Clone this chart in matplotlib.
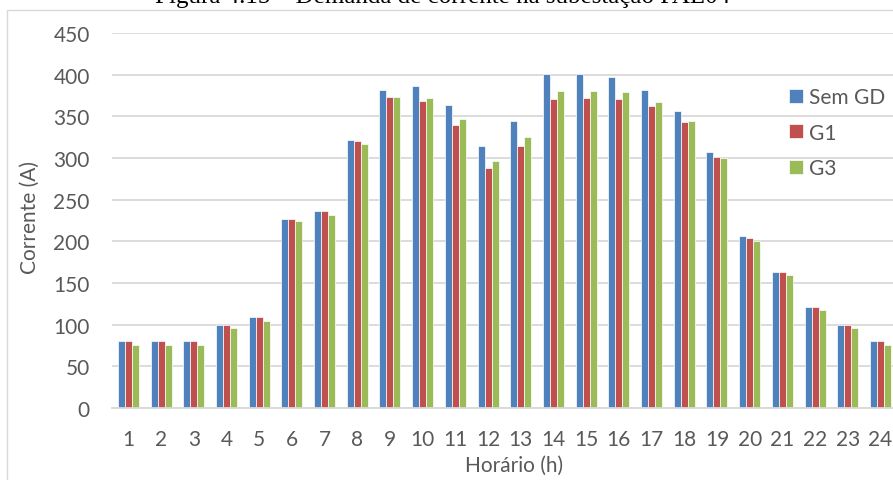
import numpy as np
import matplotlib.pyplot as plt
from matplotlib.patches import Rectangle

# corrente por hora na subestação (A)
horas = list(range(1, 25))
sem_gd = [80, 80, 80, 100, 109, 227, 236, 322, 382, 386, 364, 315,
          345, 401, 401, 397, 382, 356, 307, 206, 163, 121, 100, 80]
g1 = [80, 80, 80, 100, 109, 227, 236, 320, 373, 368, 340, 288,
      315, 371, 372, 371, 362, 343, 301, 204, 163, 121, 100, 80]
g3 = [76, 76, 76, 96, 105, 224, 232, 317, 373, 372, 347, 296,
      325, 380, 381, 379, 367, 345, 300, 201, 160, 118, 96, 76]
series = [("Sem GD", sem_gd, "#4F81BD"),
          ("G1", g1, "#C0504D"),
          ("G3", g3, "#9BBB59")]

plt.rcParams['font.family'] = ['Lato', 'DejaVu Sans']
txt = "#595959"
grid = "#D9D9D9"

W, H = 893, 481
fig = plt.figure(figsize=(W / 100, H / 100), dpi=100)

# chart area border (continues past the right and bottom edges)
fig.patches.append(Rectangle((7 / W, -0.1), 1.2, 1 - 11 / H + 0.1,
                             transform=fig.transFigure, fill=False,
                             edgecolor=grid, linewidth=1.0))

fig.text(443 / W, 1 - 3.5 / H,
         "Figura 4.15 – Demanda de corrente na subestação PAL04",
         family="Liberation Serif", fontsize=18, color="black",
         ha="center", va="baseline")

ax = fig.add_axes([112 / W, 1 - 409 / H, 784.8 / W, 375 / H])

x = np.array(horas)
step = 0.214
for k, (name, vals, color) in enumerate(series):
    ax.bar(x + (k - 1) * step, vals, width=step, color=color,
           edgecolor="white", linewidth=0.5, label=name, zorder=2)

ax.set_xlim(0.5, 24.5)
ax.set_ylim(0, 450)
ax.set_yticks(range(0, 451, 50))
ax.set_xticks(x)
ax.yaxis.grid(True, color=grid, linewidth=1.3, zorder=0)
ax.set_axisbelow(True)
for s in ["left", "right", "top"]:
    ax.spines[s].set_visible(False)
ax.spines["bottom"].set_color(grid)
ax.spines["bottom"].set_linewidth(1.3)
ax.tick_params(axis="both", length=0, labelsize=15, labelcolor=txt)
ax.tick_params(axis="y", pad=16)
ax.tick_params(axis="x", pad=15)

fig.text(514 / W, 1 - 466 / H, "Horário (h)", fontsize=15, color=txt,
         ha="center", va="center")
fig.text(30 / W, 1 - 218 / H, "Corrente (A)", fontsize=15, color=txt,
         ha="center", va="center", rotation=90)

leg = ax.legend(loc="upper left", bbox_to_anchor=(789 / W, 1 - 88 / H),
                bbox_transform=fig.transFigure, frameon=False, fontsize=15,
                handlelength=0.68, handleheight=0.68, handletextpad=0.3,
                labelspacing=0.75, borderpad=0, borderaxespad=0)
for t in leg.get_texts():
    t.set_color(txt)

fig.savefig("out.png", dpi=100)
